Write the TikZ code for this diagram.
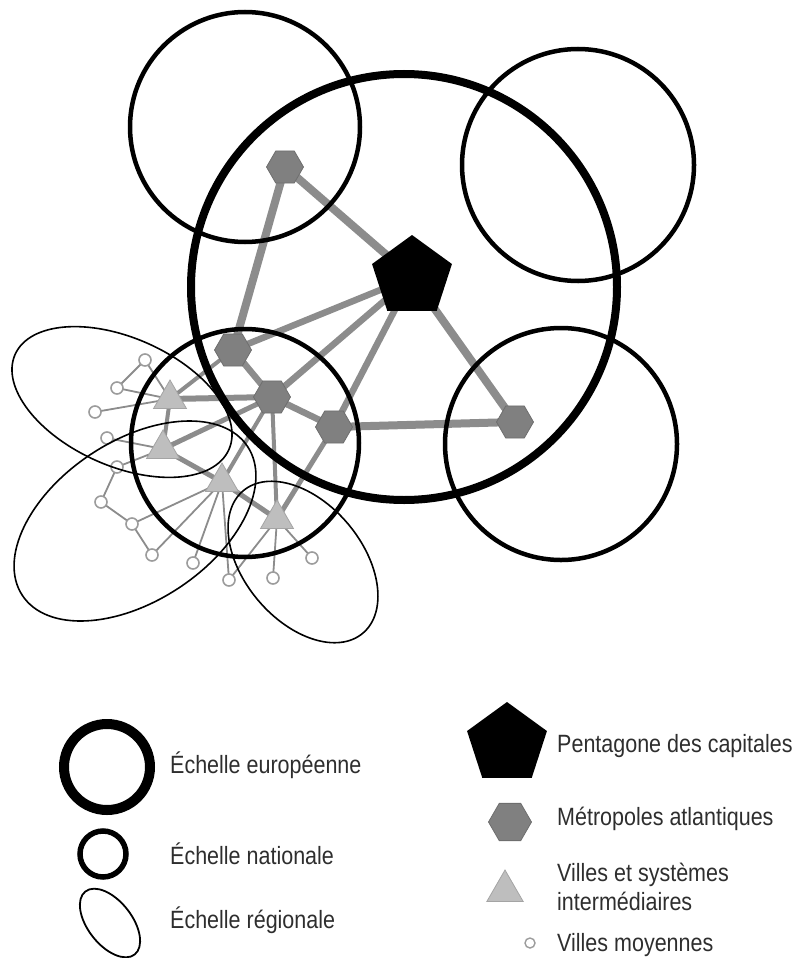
\documentclass[tikz,border=0pt]{standalone}
\usepackage{fontspec}
\setmainfont[FakeStretch=0.86]{Liberation Sans}
\usepackage{xcolor}
\usetikzlibrary{shapes.geometric, backgrounds}
\definecolor{mhex}{HTML}{808080}
\definecolor{mhexline}{HTML}{6E6E6E}
\definecolor{mlink}{HTML}{8C8C8C}
\definecolor{mtri}{HTML}{BEBEBE}
\definecolor{mtriline}{HTML}{A4A4A4}
\definecolor{mville}{HTML}{9C9C9C}
\definecolor{mtext}{HTML}{2E2E2E}
\tikzset{
  capital/.style={regular polygon, regular polygon sides=5, fill=black,
                  inner sep=0pt, minimum size=84pt},
  metro/.style={regular polygon, regular polygon sides=6, fill=mhex, draw=mhexline,
                line width=0.8pt, inner sep=0pt, minimum size=37pt},
  inter/.style={regular polygon, regular polygon sides=3, fill=mtri, draw=mtriline,
                line width=0.8pt, inner sep=0pt, minimum size=38pt},
  ville/.style={circle, fill=white, draw=mville, line width=1.6pt,
                inner sep=0pt, minimum size=12pt},
  biglink/.style={mlink, line width=8pt, line join=round},
  midlink/.style={mlink, line width=5pt},
  thinlink/.style={mlink, line width=1.8pt},
  europe/.style={black, line width=8pt},
  nation/.style={black, line width=4.5pt},
  region/.style={black, line width=1.6pt},
  lgtext/.style={anchor=base west, inner sep=0pt, text=mtext,
                 font=\fontsize{25}{29}\selectfont, align=left},
}

\begin{document}
\begin{tikzpicture}[x=1pt, y=-1pt]
  \useasboundingbox (0,0) rectangle (798,958);

  % villes
  \node[capital] (pent) at (412,277) {};
  \node[metro] (hexN) at (285,167) {};
  \node[metro] (hexE) at (515,422) {};
  \node[metro] (hexA) at (233,350) {};
  \node[metro] (hexB) at (272,397) {};
  \node[metro] (hexC) at (334,427) {};
  \node[inter] (triA) at (170,399) {};
  \node[inter] (triB) at (163,449) {};
  \node[inter] (triC) at (222,482) {};
  \node[inter] (triD) at (277,519) {};
  \foreach \n/\x/\y in {v1/145/360, v2/117/388, v3/95/412, v4/107/438,
                        v5/117/467, v6/101/502, v7/132/524, v8/152/555,
                        v9/193/563, v10/229/580, v11/273/578, v12/312/558}
    \node[ville] (\n) at (\x,\y) {};

  % liens
  \begin{scope}[on background layer]
    \draw[biglink] (hexA.center) -- (hexN.center) -- (pent.center)
                   -- (hexE.center) -- (hexC.center);
    \draw[biglink, line width=6.5pt] (pent.center) -- (hexA.center);
    \draw[biglink, line width=6.5pt] (pent.center) -- (hexB.center);
    \draw[biglink, line width=6.5pt] (pent.center) -- (hexC.center);
    \draw[biglink, line width=6.5pt] (hexA.center) -- (hexB.center) -- (hexC.center);
    \draw[midlink, line width=6pt] (triA.center) -- (hexB.center);
    \draw[midlink, line width=4pt] (triA.center) -- (hexA.center);
    \draw[midlink] (triB.center) -- (hexB.center);
    \draw[midlink, line width=4pt] (triC.center) -- (hexB.center);
    \draw[midlink, line width=4pt] (hexB.center) -- (triD.center);
    \draw[midlink] (hexC.center) -- (triD.center);
    \draw[midlink, line width=4pt] (triA.center) -- (triB.center);
    \draw[midlink] (triB.center) -- (triC.center) -- (triD.center);
    % villes moyennes
    \foreach \a/\b in {triA/v1, triA/v2, triA/v3, v1/v2, triB/v4, triB/v5,
                       v5/v6, v6/v7, v7/v8, triC/v7, triC/v8, triC/v9,
                       triC/v10, triD/v10, triD/v11, triD/v12}
      \draw[thinlink] (\a.center) -- (\b.center);
  \end{scope}

  % échelles
  \draw[europe] (404,287) circle [radius=213];
  \draw[nation] (245,127) circle [radius=115];
  \draw[nation] (578,165) circle [radius=116];
  \draw[nation] (561,444) circle [radius=116];
  \draw[nation] (245,443) circle [radius=114];
  \draw[region, rotate around={-24:(122,402)}] (122,402) ellipse [x radius=117, y radius=64];
  \draw[region, rotate around={33.5:(135,521)}] (135,521) ellipse [x radius=135, y radius=80];
  \draw[region, rotate around={-50:(303,562)}] (303,562) ellipse [x radius=93, y radius=59];

  % légende
  \draw[europe, line width=10pt] (107,767) circle [radius=43];
  \draw[nation, line width=5.5pt] (103,854) circle [radius=23];
  \draw[region, line width=1.8pt, rotate around={-52:(110,923)}] (110,923)
    ellipse [x radius=40, y radius=22];
  \node[lgtext] (lgEur) at (170,773) {Échelle européenne};
  \node[lgtext] (lgNat) at (170,864) {Échelle nationale};
  \node[lgtext] (lgReg) at (170,928) {Échelle régionale};

  \node[capital] (lgPent) at (507,744) {};
  \node[metro, minimum size=43pt] (lgHex) at (510,822) {};
  \node[inter, minimum size=42pt] (lgTri) at (505,891) {};
  \node[ville, minimum size=10pt, line width=1.4pt] (lgVille) at (530,943) {};
  \node[lgtext] (lgPentTxt) at (557,752) {Pentagone des capitales};
  \node[lgtext] (lgHexTxt) at (557,825) {Métropoles atlantiques};
  \node[lgtext] (lgTriTxt) at (557,910) {Villes et systèmes\\intermédiaires};
  \node[lgtext] (lgVilleTxt) at (557,951) {Villes moyennes};
\end{tikzpicture}
\end{document}
